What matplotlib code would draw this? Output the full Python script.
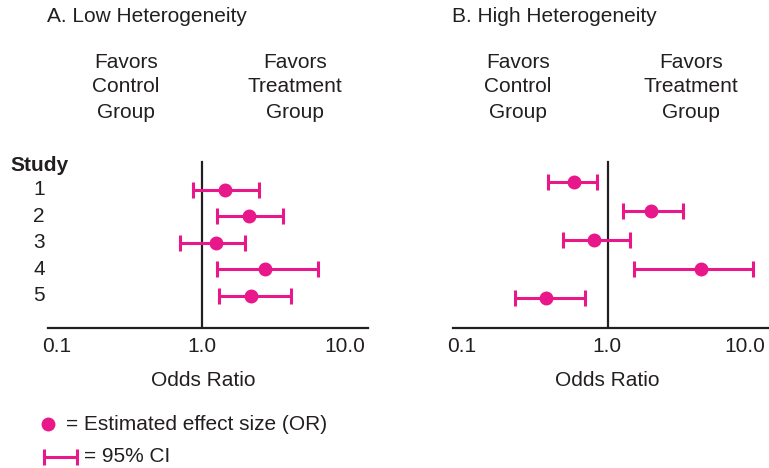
import matplotlib
matplotlib.use("Agg")
import matplotlib.pyplot as plt
import matplotlib.transforms as mtrans
import numpy as np

plt.rcParams['font.family'] = ['Liberation Sans', 'DejaVu Sans']

# data
studies = ['1', '2', '3', '4', '5']
tick_vals = [0.1, 1.0, 10.0]
tick_labels = ['0.1', '1.0', '10.0']

or_low = [1.44, 2.13, 1.26, 2.74, 2.19]
lo_low = [0.87, 1.28, 0.70, 1.28, 1.31]
hi_low = [2.49, 3.63, 1.99, 6.36, 4.13]

or_high = [0.58, 2.00, 0.81, 4.43, 0.376]
lo_high = [0.388, 1.27, 0.49, 1.53, 0.228]
hi_high = [0.845, 3.34, 1.42, 10.2, 0.70]

pink = '#E8178A'
ink = '#231f20'
W, H = 769, 468
FS = 15


def fx(x):
    return x / W


def fy(y):
    return 1 - y / H


fig = plt.figure(figsize=(W / 100, H / 100), dpi=100)

# panel geometry in pixels
panels = [
    dict(left=48, right=368, xlim=(0.0852, 14.2), ylim=(6.208, -0.132),
         orv=or_low, lo=lo_low, hi=hi_low, title='A. Low Heterogeneity',
         title_x=47, ctrl_x=126, trt_x=295, xlab_x=203, shift=[-1, 0, -1]),
    dict(left=453, right=769, xlim=(0.0845, 13.2), ylim=(6.034, 0.241),
         orv=or_high, lo=lo_high, hi=hi_high, title='B. High Heterogeneity',
         title_x=452, ctrl_x=518, trt_x=691, xlab_x=607, shift=[-2, -1, -7]),
]

axes = []
for p in panels:
    ax = fig.add_axes([fx(p['left']), fy(328), (p['right'] - p['left']) / W, 168 / H])
    ax.set_xscale('log')
    ax.set_xlim(*p['xlim'])
    ax.set_ylim(*p['ylim'])
    rows = np.arange(1, len(studies) + 1)
    orv = np.array(p['orv'])
    err = [orv - np.array(p['lo']), np.array(p['hi']) - orv]
    ax.errorbar(orv, rows, xerr=err, fmt='o', color=pink, ecolor=pink,
                ms=9, elinewidth=2.2, capsize=5.8, capthick=2.2, zorder=3)
    ax.axvline(1.0, ymin=0, ymax=0.988, color=ink, lw=1.6, zorder=2)
    for s in ['top', 'right', 'left']:
        ax.spines[s].set_visible(False)
    ax.spines['bottom'].set_color(ink)
    ax.spines['bottom'].set_linewidth(1.6)
    ax.set_yticks([])
    ax.set_xticks([])
    ax.xaxis.set_minor_locator(matplotlib.ticker.NullLocator())
    # tick labels drawn by hand so the last one can sit inside the figure
    for v, lbl, dx in zip(tick_vals, tick_labels, p['shift']):
        ax.annotate(lbl, (v, 0), xycoords=('data', 'axes fraction'),
                    xytext=(dx, -19), textcoords='offset pixels',
                    fontsize=FS, color=ink, ha='center', va='center')
    ax.patch.set_alpha(0)
    axes.append(ax)

    fig.text(fx(p['title_x']), fy(17), p['title'], fontsize=FS, color=ink,
             ha='left', va='center')
    for i, line in enumerate(['Favors', 'Control', 'Group']):
        fig.text(fx(p['ctrl_x']), fy(62 + 25 * i), line, fontsize=FS,
                 color=ink, ha='center', va='center')
    for i, line in enumerate(['Favors', 'Treatment', 'Group']):
        fig.text(fx(p['trt_x']), fy(62 + 25 * i), line, fontsize=FS,
                 color=ink, ha='center', va='center')
    fig.text(fx(p['xlab_x']), fy(381), 'Odds Ratio', fontsize=FS, color=ink,
             ha='center', va='center')

# study labels on the left of panel A
ax = axes[0]
tr = mtrans.blended_transform_factory(fig.transFigure, ax.transData)
for i, s in enumerate(studies):
    ax.text(fx(39), i + 1, s, transform=tr, fontsize=FS, color=ink,
            ha='center', va='center')
fig.text(fx(10), fy(165), 'Study', fontsize=FS, fontweight='bold', color=ink,
         ha='left', va='center')

# key
key = fig.add_axes([0, 0, 1, 1])
key.set_xlim(0, W)
key.set_ylim(H, 0)
key.axis('off')
key.plot([48], [424], 'o', color=pink, ms=9)
key.errorbar([60], [457], xerr=[[16.5], [16.5]], fmt='none', ecolor=pink,
             elinewidth=2.2, capsize=5.8, capthick=2.2)
key.text(66, 425, '= Estimated effect size (OR)', fontsize=FS, color=ink,
         ha='left', va='center')
key.text(84, 457, '= 95% CI', fontsize=FS, color=ink, ha='left', va='center')

fig.savefig('out.png', dpi=100)
